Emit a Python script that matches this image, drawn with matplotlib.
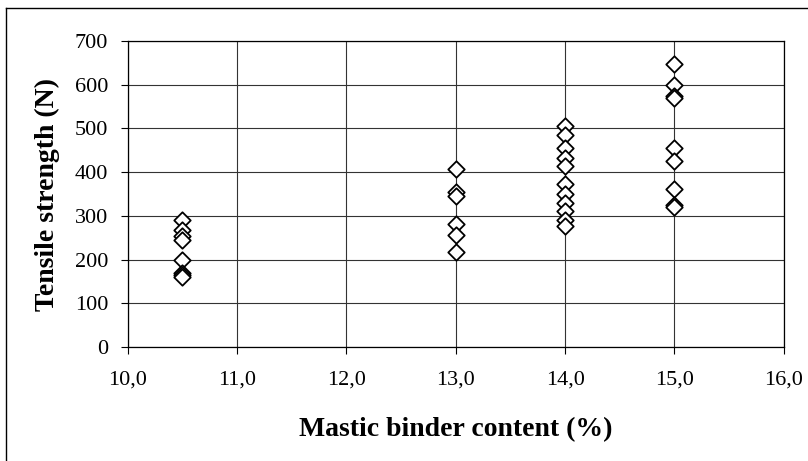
import matplotlib.pyplot as plt
from matplotlib.lines import Line2D

binder = [10.5] * 8 + [13.0] * 6 + [14.0] * 11 + [15.0] * 9
strength = [290, 268, 255, 245, 200, 170, 165, 160,
            408, 355, 345, 282, 257, 218,
            505, 485, 455, 432, 415, 372, 350, 330, 312, 290, 277,
            648, 600, 575, 570, 455, 425, 362, 325, 320]
xticks = [10, 11, 12, 13, 14, 15, 16]
xlabels = ["10,0", "11,0", "12,0", "13,0", "14,0", "15,0", "16,0"]
yticks = [0, 100, 200, 300, 400, 500, 600, 700]

plt.rcParams["font.family"] = ["Liberation Serif", "DejaVu Serif"]

fig = plt.figure(figsize=(8.08, 4.61), dpi=100)
ax = fig.add_axes([0.158, 0.247, 0.812, 0.664])
ax.scatter(binder, strength, marker="D", s=70, facecolors="white",
           edgecolors="black", linewidths=1.3, zorder=3)
ax.set_xlim(10, 16)
ax.set_ylim(0, 700)
ax.set_xticks(xticks)
ax.set_xticklabels(xlabels)
ax.set_yticks(yticks)
ax.grid(True, color="#333333", linewidth=0.8)
ax.tick_params(labelsize=16, direction="out", length=5, width=0.8)
ax.tick_params(axis="x", pad=12)
ax.tick_params(axis="y", pad=9)
for s in ax.spines.values():
    s.set_linewidth(0.9)
ax.set_xlabel("Mastic binder content (%)", fontsize=20, fontweight="bold", labelpad=20)
ax.set_ylabel("Tensile strength (N)", fontsize=20, fontweight="bold", labelpad=11)

# outer chart frame (left and top edges visible)
fig.add_artist(Line2D([6 / 808, 6 / 808], [0, 1 - 8 / 461], transform=fig.transFigure,
                      color="black", linewidth=1))
fig.add_artist(Line2D([6 / 808, 1], [1 - 8 / 461, 1 - 8 / 461], transform=fig.transFigure,
                      color="black", linewidth=1))

plt.savefig("out.png", dpi=100)
plt.close()
